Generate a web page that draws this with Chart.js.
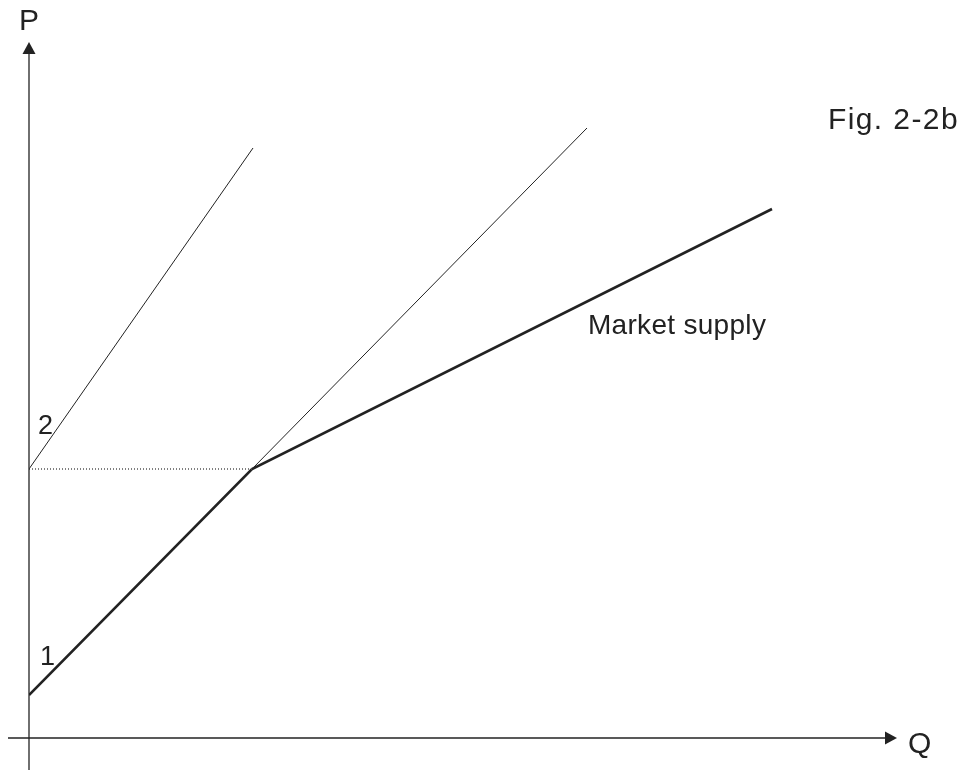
<!DOCTYPE html>
<html>
<head>
<meta charset="utf-8">
<script src="https://cdn.jsdelivr.net/npm/chart.js@4"></script>
<style>
  html, body { margin: 0; padding: 0; background: #fff; }
  #wrap { width: 968px; height: 770px; position: relative; }
</style>
</head>
<body>
<div id="wrap"><canvas id="c"></canvas></div>
<script>
// Quantities (Q) and prices (P) (arbitrary units)
const marketQ = [0, 22.3, 74.3];
const marketP = [4.3, 26.9, 52.9];
const firm1ExtQ = [22.3, 55.8];
const firm1ExtP = [26.9, 61.0];
const firm2Q = [0, 22.4];
const firm2P = [26.9, 59.0];
const guideQ = [0, 22.3];
const guideP = [26.9, 26.9];

const axisMaxQ = 86.8;
const axisMaxP = 69.6;

function pts(qs, ps) { return qs.map((q, i) => ({ x: q, y: ps[i] })); }

const INK = '#222';
const FONT = "'Liberation Sans', Arial, Helvetica, sans-serif";

const labels = [
  { text: 'P', q: 0, p: 70.2, dx: 0, dy: -6, align: 'center', size: 30 },
  { text: 'Q', q: 86.8, p: 0, dx: 11, dy: 15, align: 'left', size: 30 },
  { text: '1', q: 0, p: 7.3, dx: 11, dy: 0, align: 'left', size: 27 },
  { text: '2', q: 0, p: 30.4, dx: 9, dy: 0, align: 'left', size: 27 },
  { text: 'Market supply', q: 55.9, p: 40.4, dx: 0, dy: 0, align: 'left', size: 28, spacing: 0.3 },
  { text: 'Fig. 2-2b', q: 79.9, p: 60.9, dx: 0, dy: 0, align: 'left', size: 30, spacing: 1.4 }
];

const axesPlugin = {
  id: 'econAxes',
  afterDatasetsDraw(chart) {
    const { ctx, scales: { x, y } } = chart;
    const x0 = x.getPixelForValue(0), y0 = y.getPixelForValue(0);
    const xEnd = x.getPixelForValue(axisMaxQ), yEnd = y.getPixelForValue(axisMaxP);
    ctx.save();
    ctx.strokeStyle = INK; ctx.fillStyle = INK; ctx.lineWidth = 1.3;
    // y axis
    ctx.beginPath(); ctx.moveTo(x0, y0 + 32); ctx.lineTo(x0, yEnd + 10); ctx.stroke();
    ctx.beginPath(); ctx.moveTo(x0, yEnd); ctx.lineTo(x0 - 6.5, yEnd + 12); ctx.lineTo(x0 + 6.5, yEnd + 12); ctx.closePath(); ctx.fill();
    // x axis
    ctx.beginPath(); ctx.moveTo(x0 - 21, y0); ctx.lineTo(xEnd - 10, y0); ctx.stroke();
    ctx.beginPath(); ctx.moveTo(xEnd, y0); ctx.lineTo(xEnd - 12, y0 - 6.5); ctx.lineTo(xEnd - 12, y0 + 6.5); ctx.closePath(); ctx.fill();
    // labels
    ctx.textBaseline = 'alphabetic';
    labels.forEach(l => {
      ctx.font = l.size + 'px ' + FONT;
      ctx.textAlign = l.align;
      ctx.letterSpacing = (l.spacing || 0) + 'px';
      ctx.fillText(l.text, x.getPixelForValue(l.q) + l.dx, y.getPixelForValue(l.p) + l.dy);
    });
    ctx.restore();
  }
};

new Chart(document.getElementById('c'), {
  type: 'scatter',
  data: {
    datasets: [
      { data: pts(guideQ, guideP), showLine: true, borderColor: '#555', borderWidth: 1.3, borderDash: [1, 2], pointRadius: 0 },
      { data: pts(firm2Q, firm2P), showLine: true, borderColor: INK, borderWidth: 1, pointRadius: 0 },
      { data: pts(firm1ExtQ, firm1ExtP), showLine: true, borderColor: INK, borderWidth: 1, pointRadius: 0 },
      { data: pts(marketQ, marketP), showLine: true, borderColor: INK, borderWidth: 2.6, pointRadius: 0, borderJoinStyle: 'miter' }
    ]
  },
  options: {
    responsive: true,
    maintainAspectRatio: false,
    animation: false,
    layout: { padding: { left: 29, right: 71, top: 42, bottom: 32 } },
    plugins: { legend: { display: false }, tooltip: { enabled: false } },
    scales: {
      x: { type: 'linear', min: 0, max: axisMaxQ, display: false },
      y: { type: 'linear', min: 0, max: axisMaxP, display: false }
    }
  },
  plugins: [axesPlugin]
});
</script>
</body>
</html>
